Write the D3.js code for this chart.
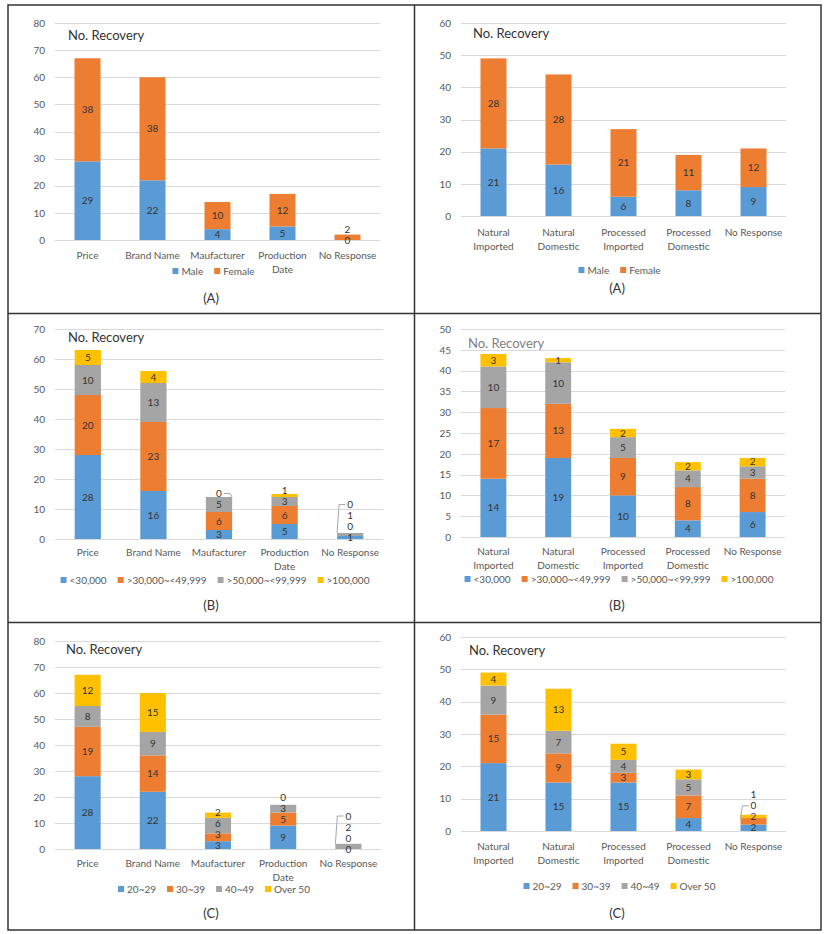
<!DOCTYPE html>
<html><head><meta charset="utf-8">
<script src="https://cdn.jsdelivr.net/npm/d3@7"></script>
<style>body{margin:0;background:#fff;} svg{display:block;font-family:Lato,"Open Sans",sans-serif;}</style>
</head><body>
<svg id="c" width="827" height="934"></svg>
<script>
// ---------- data ----------
const productCategories = ["Price","Brand Name","Maufacturer","Production\nDate","No Response"];
const originCategories = ["Natural\nImported","Natural\nDomestic","Processed\nImported","Processed\nDomestic","No Response"];
const genderSeries = ["Male","Female"];
const incomeSeries = ["<30,000",">30,000~<49,999",">50,000~<99,999",">100,000"];
const ageSeries = ["20~29","30~39","40~49","Over 50"];
// rows = categories, columns = series (bottom to top)
const productByGender = [[29,38],[22,38],[4,10],[5,12],[0,2]];
const originByGender  = [[21,28],[16,28],[6,21],[8,11],[9,12]];
const productByIncome = [[28,20,10,5],[16,23,13,4],[3,6,5,0],[5,6,3,1],[1,0,1,0]];
const originByIncome  = [[14,17,10,3],[19,13,10,1],[10,9,5,2],[4,8,4,2],[6,8,3,2]];
const productByAge    = [[28,19,8,12],[22,14,9,15],[3,3,6,2],[9,5,3,0],[0,0,2,0]];
const originByAge     = [[21,15,9,4],[15,9,7,13],[15,3,4,5],[4,7,5,3],[2,2,0,1]];
const panelTags = ["(A)","(A)","(B)","(B)","(C)","(C)"];
const axisMax  = [80,60,70,50,80,60];
const axisStep = [10,10,10,5,10,10];
const chartTitle = "No. Recovery";
const seriesColors = ["#5B9BD5","#ED7D31","#A5A5A5","#FFC000"];
// data labels that carry a leader line (panel index, category index, series index)
const leaders = [
  {panel:2, cat:2, series:3, side:"right"},
  {panel:2, cat:4, series:3, side:"left"},
  {panel:4, cat:4, series:3, side:"left"},
  {panel:5, cat:4, series:2, side:"left"}
];

const panelData = [
  {cats:productCategories, series:genderSeries, values:productByGender},
  {cats:originCategories,  series:genderSeries, values:originByGender},
  {cats:productCategories, series:incomeSeries, values:productByIncome},
  {cats:originCategories,  series:incomeSeries, values:originByIncome},
  {cats:productCategories, series:ageSeries,    values:productByAge},
  {cats:originCategories,  series:ageSeries,    values:originByAge}
];

// ---------- layout ----------
const layout = [
 {x0:55, x1:380, y0:23,  y1:240, titleX:68,  titleY:40,  cat1:259, legY:271, tagY:303, cx:211, titleFill:"#333"},
 {x0:461,x1:786, y0:23,  y1:216, titleX:473, titleY:38,  cat1:236, legY:270, tagY:293, cx:617, titleFill:"#333"},
 {x0:55, x1:383, y0:329, y1:539, titleX:68,  titleY:342, cat1:556, legY:580, tagY:610, cx:211, titleFill:"#333"},
 {x0:461,x1:785, y0:329, y1:537, titleX:468, titleY:348, cat1:555, legY:579, tagY:610, cx:617, titleFill:"#7f7f7f"},
 {x0:55, x1:381, y0:641, y1:849, titleX:66,  titleY:654, cat1:867, legY:889, tagY:918, cx:211, titleFill:"#333"},
 {x0:461,x1:786, y0:637, y1:831, titleX:469, titleY:655, cat1:850, legY:886, tagY:918, cx:617, titleFill:"#333"}
];

const svg = d3.select("#c");

// frame
const frame = svg.append("g").attr("stroke","#333").attr("stroke-width",1.5).attr("fill","none");
frame.append("rect").attr("x",8).attr("y",5).attr("width",813).attr("height",925);
frame.append("line").attr("x1",414.5).attr("x2",414.5).attr("y1",5).attr("y2",930);
frame.append("line").attr("x1",8).attr("x2",821).attr("y1",313.5).attr("y2",313.5);
frame.append("line").attr("x1",8).attr("x2",821).attr("y1",622.5).attr("y2",622.5);

panelData.forEach((pd, pi) => {
  const L = layout[pi];
  const g = svg.append("g");
  const x = d3.scaleBand().domain(pd.cats).range([L.x0, L.x1]).paddingInner(0.6).paddingOuter(0.3);
  const y = d3.scaleLinear().domain([0, axisMax[pi]]).range([L.y1, L.y0]);
  const ticks = d3.range(0, axisMax[pi] + 0.001, axisStep[pi]);

  // gridlines
  g.append("g").selectAll("line").data(ticks).join("line")
    .attr("x1", L.x0).attr("x2", L.x1)
    .attr("y1", d => Math.round(y(d)) + 0.5).attr("y2", d => Math.round(y(d)) + 0.5)
    .attr("stroke", "#d9d9d9").attr("stroke-width", 1);

  // y axis labels
  const ya = d3.axisLeft(y).tickValues(ticks).tickSize(0).tickPadding(10).tickFormat(d3.format("d"));
  const yg = g.append("g").attr("transform", `translate(${L.x0},0)`).call(ya);
  yg.select(".domain").remove();
  yg.selectAll("text").attr("font-size", 10).attr("fill", "#595959").attr("font-family","Lato,sans-serif");

  // stacks
  const keys = pd.series.map((s, i) => i);
  const rows = pd.values.map((v, ci) => { const o = {cat: pd.cats[ci]}; v.forEach((val, si) => o[si] = val); return o; });
  const stacked = d3.stack().keys(keys)(rows);

  stacked.forEach((layer, si) => {
    g.append("g").selectAll("rect").data(layer).join("rect")
      .attr("x", d => x(d.data.cat))
      .attr("width", x.bandwidth())
      .attr("y", d => y(d[1]))
      .attr("height", d => y(d[0]) - y(d[1]))
      .attr("fill", seriesColors[si]);
  });

  // data labels with simple upward collision avoidance
  const gap = 11;
  pd.cats.forEach((cat, ci) => {
    let prevY = Infinity;
    const cxBar = x(cat) + x.bandwidth() / 2;
    stacked.forEach((layer, si) => {
      const d = layer[ci];
      const natural = (y(d[0]) + y(d[1])) / 2;
      const ly = Math.min(natural, prevY - gap);
      prevY = ly;
      const t = g.append("text").attr("x", cxBar).attr("y", ly).attr("dy", "0.35em")
        .attr("text-anchor", "middle").attr("font-size", 10).attr("fill", "#333")
        .text(pd.values[ci][si]);
      const ld = leaders.find(l => l.panel === pi && l.cat === ci && l.series === si);
      if (ld) {
        const w = t.node().getComputedTextLength();
        const topY = y(d[1]);
        let pts;
        if (ld.side === "right") {
          const sx = cxBar + w / 2 + 2, bx = x(cat) + x.bandwidth();
          pts = [[sx, ly], [bx - 2, ly], [bx, topY]];
        } else {
          const sx = cxBar - w / 2 - 2, bx = x(cat);
          pts = [[sx, ly], [bx + 2, ly], [bx, topY]];
        }
        g.append("path").attr("d", d3.line()(pts)).attr("fill", "none")
          .attr("stroke", "#a6a6a6").attr("stroke-width", 1);
      }
    });
  });

  // category labels
  pd.cats.forEach(cat => {
    const lines = cat.split("\n");
    const t = g.append("text").attr("text-anchor", "middle").attr("font-size", 10).attr("fill", "#595959");
    lines.forEach((ln, k) => t.append("tspan").attr("x", x(cat) + x.bandwidth() / 2).attr("y", L.cat1 + k * 14).text(ln));
  });

  // title
  g.append("text").attr("x", L.titleX).attr("y", L.titleY).attr("font-size", 13)
    .attr("fill", L.titleFill).text(chartTitle);

  // legend
  const lg = g.append("g");
  let cursor = 0;
  pd.series.forEach((s, si) => {
    const it = lg.append("g").attr("transform", `translate(${cursor},0)`);
    it.append("rect").attr("x", 0).attr("y", -3).attr("width", 6).attr("height", 6).attr("fill", seriesColors[si]);
    const tt = it.append("text").attr("x", 9).attr("y", 0).attr("dy", "0.35em").attr("font-size", 10)
      .attr("fill", "#595959").text(s);
    cursor += 9 + tt.node().getComputedTextLength() + 11;
  });
  const totalW = cursor - 11;
  lg.attr("transform", `translate(${(L.x0 + L.x1) / 2 - 4 - totalW / 2},${L.legY})`);

  // panel tag
  g.append("text").attr("x", L.cx).attr("y", L.tagY).attr("text-anchor", "middle")
    .attr("font-size", 13).attr("fill", "#333").text(panelTags[pi]);
});
</script>
</body></html>
